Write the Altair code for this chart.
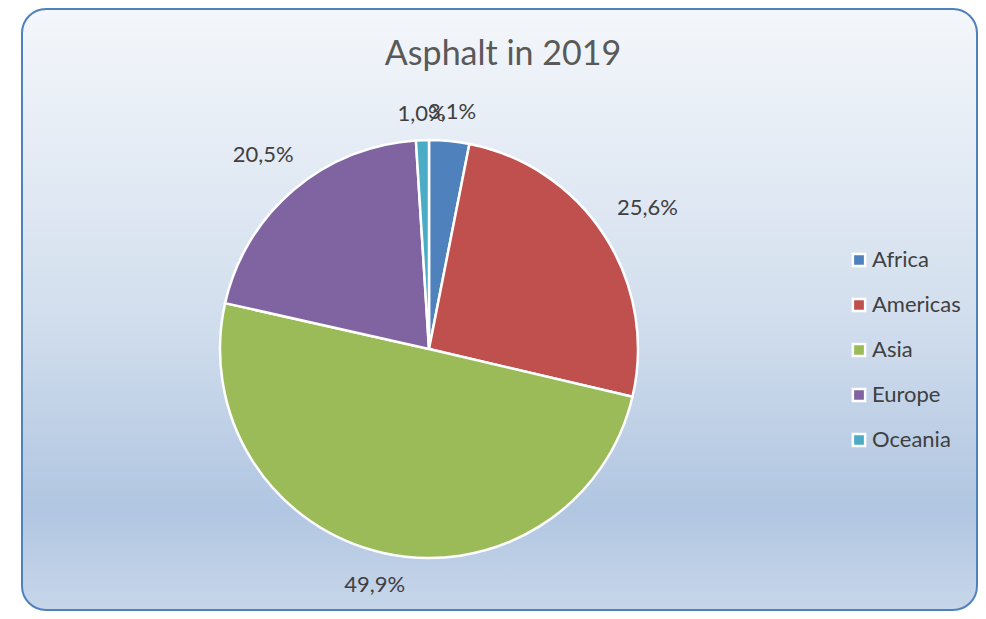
import altair as alt
import pandas as pd

title_text = "Asphalt in 2019"
regions = ["Africa", "Americas", "Asia", "Europe", "Oceania"]
shares = [3.1, 25.6, 49.9, 20.5, 1.0]
labels = ["3,1%", "25,6%", "49,9%", "20,5%", "1,0%"]
colors = ["#4f81bd", "#c0504d", "#9bbb59", "#8064a2", "#4bacc6"]

W, H = 957, 603
CX, CY, R = 408, 341, 209
FONT = "Lato"
TXT = "#404040"

df = pd.DataFrame({"region": regions, "share": shares, "label": labels,
                   "order": list(range(len(regions)))})

gradient = alt.LinearGradient(
    gradient="linear", x1=0, y1=0, x2=0, y2=1,
    stops=[
        alt.GradientStop(color="#f4f7fb", offset=0),
        alt.GradientStop(color="#d3dfee", offset=0.5),
        alt.GradientStop(color="#b1c6e1", offset=0.83),
        alt.GradientStop(color="#c7d6ea", offset=1),
    ],
)

frame = alt.Chart(pd.DataFrame({"a": [0]})).mark_rect(
    fill=gradient, stroke="#4f81bd", strokeWidth=2, cornerRadius=24
).encode(
    x=alt.value(1), x2=alt.value(W - 1), y=alt.value(1), y2=alt.value(H - 1)
)

title = alt.Chart(pd.DataFrame({"t": [title_text]})).mark_text(
    font=FONT, fontSize=34, color="#595959", align="center", baseline="middle"
).encode(x=alt.value(482), y=alt.value(47), text="t:N")

pie = alt.Chart(df).mark_arc(
    x=CX, y=CY, outerRadius=R, stroke="white", strokeWidth=2.5
).encode(
    theta=alt.Theta("share:Q", stack=True),
    order=alt.Order("order:Q"),
    color=alt.Color(
        "region:N",
        scale=alt.Scale(domain=regions, range=colors),
        legend=alt.Legend(
            title=None, orient="none", legendX=827, legendY=241,
            symbolType="square", symbolSize=150, symbolStrokeColor="white",
            symbolStrokeWidth=2.5, symbolOpacity=1,
            labelFont=FONT, labelFontSize=22, labelColor=TXT,
            rowPadding=21, labelOffset=2, padding=0,
        ),
    ),
)

text = alt.Chart(df).transform_joinaggregate(
    total="sum(share)"
).transform_window(
    cum="sum(share)", sort=[alt.SortField("order")], frame=[None, 0]
).transform_calculate(
    mid="(datum.cum - datum.share / 2) / datum.total * 2 * PI",
    lr=f"{R} + 12 + 38 * abs(sin(datum.mid)) + 13 * abs(cos(datum.mid))",
).transform_calculate(
    px=f"{CX} + datum.lr * sin(datum.mid)",
    py=f"{CY} - datum.lr * cos(datum.mid)",
).mark_text(
    font=FONT, fontSize=22, color=TXT, align="center", baseline="middle"
).encode(
    x=alt.X("px:Q", scale=None),
    y=alt.Y("py:Q", scale=None),
    text="label:N",
)

chart = alt.layer(frame, title, pie, text).properties(
    width=W, height=H,
    padding={"left": 13, "top": 0, "right": 0, "bottom": 0},
    autosize=alt.AutoSizeParams(type="none"),
).configure_view(stroke=None)

chart.save("out.html", embed_options={"renderer": "svg", "actions": False})
